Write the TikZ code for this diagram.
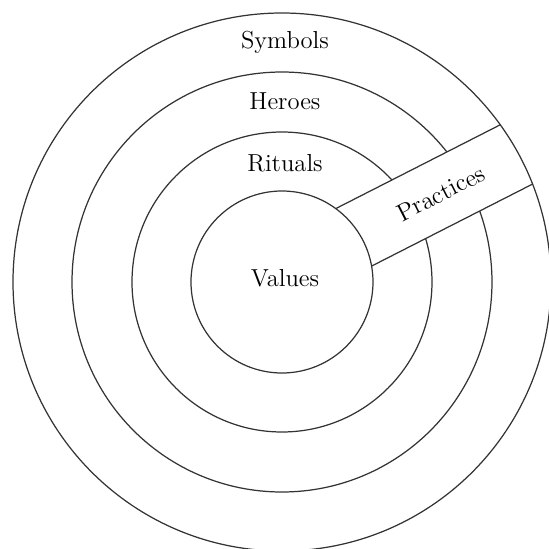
\documentclass[tikz,border=0pt]{standalone}
\begin{document}
\begin{tikzpicture}[x=0.02cm,y=0.02cm,line width=0.7pt,
    ring/.style={draw=black!80},
    layer/.style={font=\fontsize{14}{16}\selectfont,inner sep=1pt}]
  \useasboundingbox (-282,-267) rectangle (267,282);
  % rituals and heroes rings, cut by the band
  \draw[ring] (0,0) circle (150);
  \draw[ring] (0,0) circle (210);
  \begin{scope}[rotate=27]
    \fill[white] (95,-26.5) rectangle (262,41);
  \end{scope}
  \draw[ring] (0,0) circle (91);
  \draw[ring] (0,0) circle (269);
  % practices band
  \begin{scope}[rotate=27]
    \draw[ring] (81.2,41) -- (265.9,41);
    \draw[ring] (87.1,-26.5) -- (267.7,-26.5);
    \node[layer,rotate=27] (practices) at (182,7) {Practices};
  \end{scope}
  \node[layer] (symbols) at (3,240) {Symbols};
  \node[layer] (heroes) at (3,181) {Heroes};
  \node[layer] (rituals) at (3,119) {Rituals};
  \node[layer] (values) at (3,4) {Values};
\end{tikzpicture}
\end{document}
